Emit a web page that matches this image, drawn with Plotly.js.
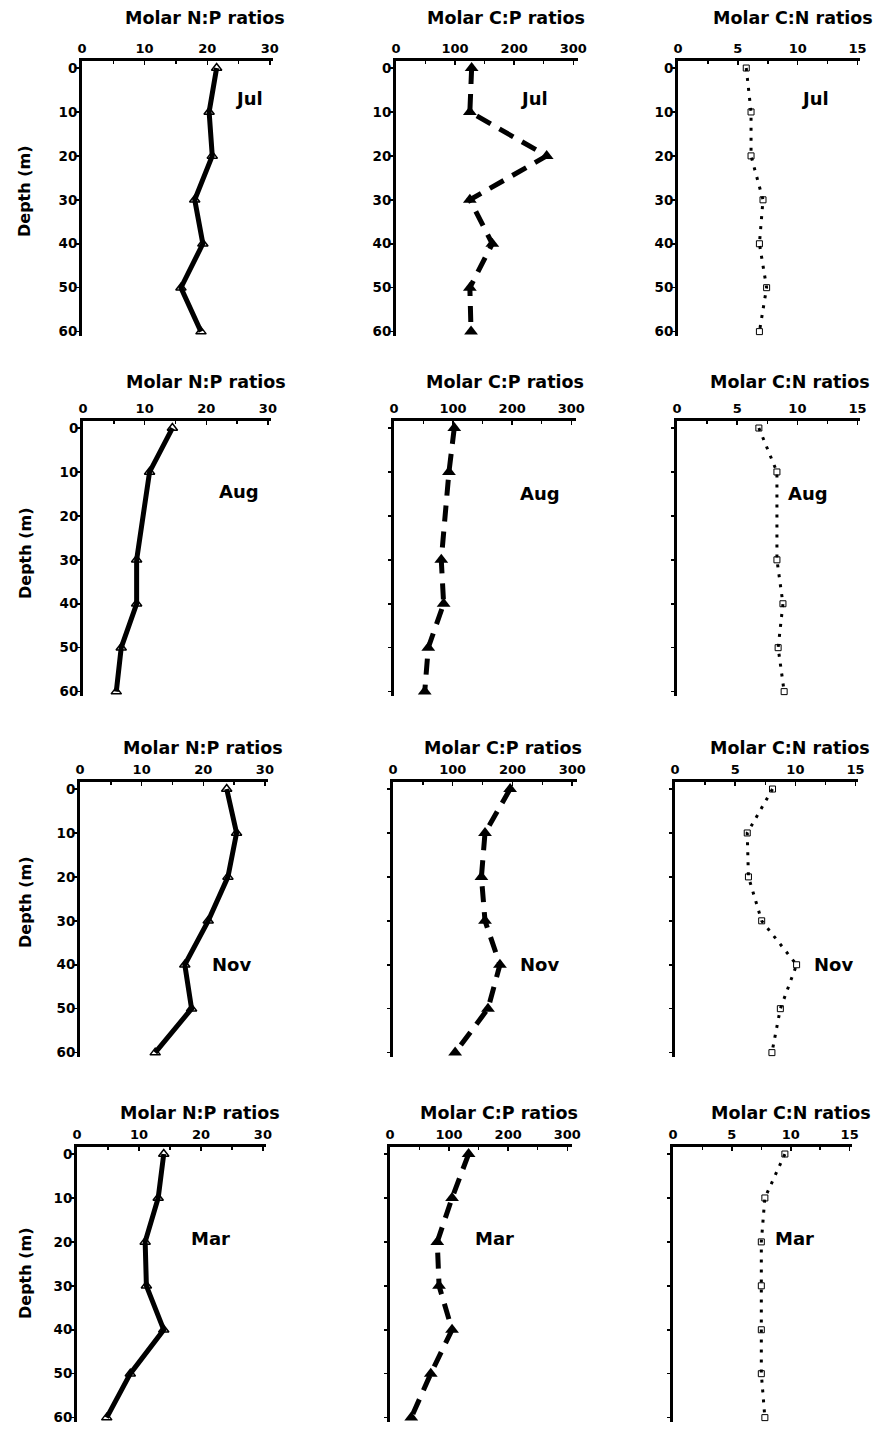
<!DOCTYPE html>
<html>
<head>
<meta charset="utf-8">
<script src="https://cdn.plot.ly/plotly-3.0.1.min.js"></script>
<style>
  html, body { margin: 0; padding: 0; background: #fff; }
  #chart { width: 879px; height: 1429px; }
</style>
</head>
<body>
<div id="chart"></div>
<script>
// Depth profiles of molar elemental ratios (N:P, C:P, C:N) for four sampling months.
const depths    = [0, 10, 20, 30, 40, 50, 60];
const depthsAug = [0, 10, 30, 40, 50, 60];   // no 20 m sample in August

const months = ['Jul', 'Aug', 'Nov', 'Mar'];
const panelTitles = ['Molar N:P ratios', 'Molar C:P ratios', 'Molar C:N ratios'];

const npJul = [21.5, 20.3, 20.8, 18.0, 19.3, 15.8, 19.0];
const cpJul = [128, 125, 255, 125, 163, 125, 127];
const cnJul = [5.7, 6.1, 6.1, 7.1, 6.8, 7.4, 6.8];

const npAug = [14.5, 10.8, 8.7, 8.7, 6.2, 5.4];
const cpAug = [102, 93, 80, 84, 58, 52];
const cnAug = [6.8, 8.3, 8.3, 8.8, 8.4, 8.9];

const npNov = [23.8, 25.4, 24.0, 20.8, 17.0, 18.1, 12.2];
const cpNov = [196, 154, 148, 154, 179, 159, 104];
const cnNov = [8.1, 6.0, 6.1, 7.2, 10.1, 8.75, 8.05];

const npMar = [14.0, 13.1, 11.0, 11.2, 14.0, 8.6, 4.8];
const cpMar = [133, 105, 80, 83, 105, 69, 36];
const cnMar = [9.5, 7.8, 7.5, 7.5, 7.5, 7.5, 7.8];

const xTickVals = [[0, 10, 20, 30], [0, 100, 200, 300], [0, 5, 10, 15]];

// ---- assembly ----
const rows = [
  { depth: depths,    series: [npJul, cpJul, cnJul] },
  { depth: depthsAug, series: [npAug, cpAug, cnAug] },
  { depth: depths,    series: [npNov, cpNov, cnNov] },
  { depth: depths,    series: [npMar, cpMar, cnMar] }
];

// page geometry (pixels)
const W = 879, H = 1429;
const px2x = p => p / W;
const px2y = p => 1 - p / H;
const rowTop = [61, 421, 782, 1147];
const plotH = 275;
const colSpan = [
  [[82, 273], [396, 578], [678, 860]],
  [[83, 271], [394, 576], [677, 860]],
  [[80, 268], [393, 577], [675, 858]],
  [[77, 266], [390, 572], [673, 852]]
];
const xRanges = [[0, 30.5], [0, 308], [0, 15.2]];
const minorStep = [5, 50, 2.5];
const titleY = [18, 382, 748, 1113];
const titleX = [[205, 506, 793], [206, 505, 790], [203, 503, 790], [200, 499, 791]];
const depthLabelY = [191, 553, 902, 1273];
const monthPos = [
  [[26.7, 7], [234, 7], [11.4, 7]],
  [[25.3, 14.5], [247, 15], [10.9, 15]],
  [[24.5, 40], [245, 40], [13.2, 40]],
  [[21.6, 19.3], [177, 19.3], [10.3, 19.3]]
];

const styles = [
  { line: { color: '#000', width: 5 },
    marker: { symbol: 'triangle-up-open', size: 9, color: '#000', line: { width: 1.5, color: '#000' } } },
  { line: { color: '#000', width: 5, dash: '16px,10px' },
    marker: { symbol: 'triangle-up', size: 12, color: '#000' } },
  { line: { color: '#000', width: 3, dash: '3px,7px' },
    marker: { symbol: 'square-open', size: 6, color: '#000', line: { width: 1, color: '#000' } } }
];

const FONT = 'DejaVu Sans, Arial, sans-serif';
const traces = [];
const layout = {
  width: W, height: H,
  margin: { l: 0, r: 0, t: 0, b: 0 },
  paper_bgcolor: '#fff', plot_bgcolor: 'rgba(0,0,0,0)',
  showlegend: false,
  font: { family: FONT, color: '#000' },
  annotations: []
};

rows.forEach((row, r) => {
  for (let c = 0; c < 3; c++) {
    const idx = r * 3 + c + 1;
    const sfx = idx === 1 ? '' : String(idx);
    traces.push({
      type: 'scatter', mode: 'lines+markers',
      x: row.series[c], y: row.depth,
      xaxis: 'x' + sfx, yaxis: 'y' + sfx,
      line: styles[c].line, marker: styles[c].marker,
      cliponaxis: false, hoverinfo: 'x+y'
    });
    const span = colSpan[r][c];
    layout['xaxis' + sfx] = {
      domain: [px2x(span[0]), px2x(span[1])],
      range: xRanges[c], autorange: false,
      anchor: 'y' + sfx, side: 'top',
      showline: true, linewidth: 3, linecolor: '#000',
      showgrid: false, zeroline: false,
      tickmode: 'array', tickvals: xTickVals[c], ticktext: xTickVals[c].map(String),
      ticks: 'inside', ticklen: 4, tickwidth: 1.5, tickcolor: '#000',
      minor: { dtick: minorStep[c], tick0: 0, ticks: 'inside', ticklen: 3, tickwidth: 1.5, tickcolor: '#000', showgrid: false },
      tickfont: { family: FONT, size: 13, color: '#000', weight: 'bold' }
    };
    layout['yaxis' + sfx] = {
      domain: [px2y(rowTop[r] + plotH), px2y(rowTop[r])],
      range: [61, -1.6], autorange: false,
      anchor: 'x' + sfx,
      showline: true, linewidth: 3, linecolor: '#000',
      showgrid: false, zeroline: false,
      tickmode: 'array', tickvals: [0, 10, 20, 30, 40, 50, 60],
      showticklabels: r === 0 || c === 0,
      ticks: 'outside', ticklen: 3, tickwidth: 1.5, tickcolor: '#000',
      ticklabelstandoff: -4,
      tickfont: { family: FONT, size: 13.5, color: '#000', weight: 'bold' }
    };
    // panel title
    layout.annotations.push({
      xref: 'paper', yref: 'paper',
      x: px2x(titleX[r][c]), y: px2y(titleY[r]),
      xanchor: 'center', yanchor: 'middle', showarrow: false,
      text: panelTitles[c],
      font: { family: FONT, size: 17.5, color: '#000', weight: 'bold' }
    });
    // month label
    layout.annotations.push({
      xref: 'x' + sfx, yref: 'y' + sfx,
      x: monthPos[r][c][0], y: monthPos[r][c][1],
      xanchor: 'center', yanchor: 'middle', showarrow: false,
      text: months[r],
      font: { family: FONT, size: 18, color: '#000', weight: 'bold' }
    });
  }
  layout.annotations.push({
    xref: 'paper', yref: 'paper',
    x: px2x(25), y: px2y(depthLabelY[r]),
    xanchor: 'center', yanchor: 'middle', showarrow: false,
    textangle: -90, text: 'Depth (m)',
    font: { family: FONT, size: 16, color: '#000', weight: 'bold' }
  });
});

Plotly.newPlot('chart', traces, layout, { staticPlot: true, displayModeBar: false });
</script>
</body>
</html>
